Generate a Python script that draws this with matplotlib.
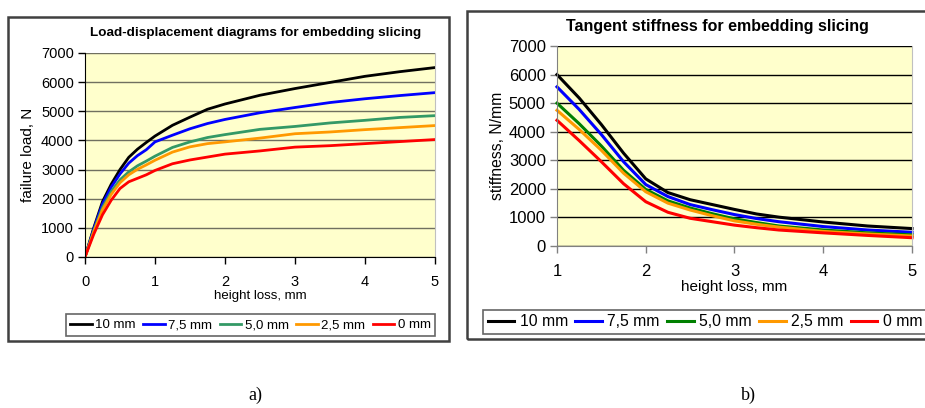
import matplotlib
matplotlib.use("Agg")
import matplotlib.pyplot as plt
from matplotlib.patches import Rectangle

plt.rcParams["font.family"] = ["Liberation Sans", "DejaVu Sans"]

W, H = 925, 408

# --- load-displacement data (a) ---
x_load = [0, 0.125, 0.25, 0.375, 0.5, 0.625, 0.75, 0.875, 1.0, 1.25, 1.5, 1.75, 2.0, 2.5, 3.0, 3.5, 4.0, 4.5, 5.0]
load_10 = [0, 1000, 1900, 2500, 3000, 3420, 3700, 3930, 4150, 4520, 4800, 5070, 5250, 5550, 5780, 5990, 6200, 6360, 6500]
load_75 = [0, 960, 1820, 2400, 2850, 3220, 3480, 3680, 3950, 4180, 4400, 4580, 4720, 4950, 5130, 5300, 5430, 5540, 5640]
load_50 = [0, 900, 1700, 2250, 2650, 2920, 3130, 3290, 3460, 3760, 3950, 4100, 4200, 4380, 4480, 4600, 4690, 4790, 4850]
load_25 = [0, 860, 1620, 2150, 2550, 2820, 3010, 3160, 3320, 3600, 3780, 3890, 3950, 4080, 4230, 4290, 4370, 4440, 4510]
load_0 = [0, 780, 1450, 1950, 2350, 2580, 2700, 2820, 2970, 3200, 3330, 3430, 3530, 3640, 3770, 3820, 3890, 3960, 4030]

# --- tangent stiffness data (b) ---
x_stiff = [1.0, 1.25, 1.5, 1.75, 2.0, 2.25, 2.5, 2.75, 3.0, 3.25, 3.5, 4.0, 4.5, 5.0]
stiff_10 = [6000, 5180, 4250, 3250, 2350, 1870, 1620, 1450, 1280, 1120, 1010, 840, 700, 610]
stiff_75 = [5570, 4780, 3900, 2950, 2150, 1730, 1450, 1270, 1100, 960, 850, 680, 560, 480]
stiff_50 = [5000, 4280, 3500, 2650, 1980, 1580, 1330, 1130, 950, 820, 700, 560, 460, 390]
stiff_25 = [4750, 4080, 3350, 2550, 1900, 1500, 1260, 1060, 880, 760, 660, 510, 420, 350]
stiff_0 = [4400, 3690, 2950, 2180, 1550, 1180, 970, 850, 730, 640, 560, 460, 370, 290]

labels = ["10 mm", "7,5 mm", "5,0 mm", "2,5 mm", "0 mm"]
colors_a = ["black", "#0000ff", "#339966", "#ff9900", "#ff0000"]
colors_b = ["black", "#0000ff", "#008000", "#ff9900", "#ff0000"]


def fx(px):
    return px / W


def fy(py):
    return 1 - py / H


def style_axes(ax, grid_color, left_color, size):
    ax.set_facecolor("#ffffcc")
    ax.set_ylim(0, 7000)
    ax.set_yticks(range(0, 7001, 1000))
    ax.yaxis.grid(True, color=grid_color, linewidth=1.0)
    ax.set_axisbelow(True)
    ax.spines["right"].set_color("#c0c0c0")
    ax.spines["top"].set_visible(False)
    ax.spines["left"].set_color(left_color)
    ax.spines["bottom"].set_color(left_color)
    ax.tick_params(direction="out", length=5, width=1, color=left_color,
                   labelsize=size, pad=3)
    ax.tick_params(axis="x", pad=8)


fig = plt.figure(figsize=(W / 100, H / 100), dpi=100)

# outer chart frames
fig.patches.append(Rectangle((fx(8), fy(341)), fx(441), 324 / H, transform=fig.transFigure,
                             fill=False, edgecolor="#404040", linewidth=1.8))
fig.patches.append(Rectangle((fx(467), fy(339)), fx(470), 328 / H, transform=fig.transFigure,
                             fill=False, edgecolor="#404040", linewidth=1.8))

# (a) load-displacement
ax1 = fig.add_axes([fx(85), fy(257), fx(350), 204 / H])
style_axes(ax1, "#707060", "black", 10.5)
for ys, c, lab in zip([load_10, load_75, load_50, load_25, load_0], colors_a, labels):
    ax1.plot(x_load, ys, color=c, linewidth=2, label=lab)
ax1.set_xlim(0, 5)
ax1.set_xticks(range(0, 6))
ax1.set_xlabel("height loss, mm", fontsize=9.5, labelpad=1)
ax1.set_ylabel("failure load, N", fontsize=11, labelpad=4)
fig.text(fx(256), fy(33), "Load-displacement diagrams for embedding slicing",
         ha="center", va="center", fontsize=9.7, fontweight="bold")

h1, l1 = ax1.get_legend_handles_labels()
fig.legend(h1, l1, loc="center", ncol=5, mode="expand",
           bbox_to_anchor=(fx(59), fy(338), fx(383), 26 / H),
           fontsize=9.5, frameon=True, fancybox=False, edgecolor="#404040",
           handlelength=1.65, handletextpad=0.25, columnspacing=0.5,
           borderpad=0.35).get_frame().set_linewidth(1.2)

# (b) tangent stiffness
ax2 = fig.add_axes([fx(557), fy(246), fx(355), 200 / H])
style_axes(ax2, "black", "#808080", 12)
for ys, c, lab in zip([stiff_10, stiff_75, stiff_50, stiff_25, stiff_0], colors_b, labels):
    ax2.plot(x_stiff, ys, color=c, linewidth=2.2, label=lab, clip_on=False)
ax2.set_xlim(1, 5)
ax2.set_xticks(range(1, 6))
ax2.set_xlabel("height loss, mm", fontsize=11, labelpad=1)
ax2.set_ylabel("stiffness, N/mm", fontsize=11.3, labelpad=3)
fig.text(fx(717), fy(27), "Tangent stiffness for embedding slicing",
         ha="center", va="center", fontsize=11.5, fontweight="bold")

h2, l2 = ax2.get_legend_handles_labels()
fig.legend(h2, l2, loc="center", ncol=5, mode="expand",
           bbox_to_anchor=(fx(475), fy(335), fx(460), 26 / H),
           fontsize=11.3, frameon=True, fancybox=False, edgecolor="#404040",
           handlelength=1.7, handletextpad=0.35, columnspacing=0.6,
           borderpad=0.3).get_frame().set_linewidth(1.2)

# sub-figure captions
fig.text(fx(255), fy(395), "a)", ha="center", va="center", fontsize=13,
         family=["Liberation Serif", "DejaVu Serif"])
fig.text(fx(748), fy(395), "b)", ha="center", va="center", fontsize=13,
         family=["Liberation Serif", "DejaVu Serif"])

fig.savefig("out.png", dpi=100)
